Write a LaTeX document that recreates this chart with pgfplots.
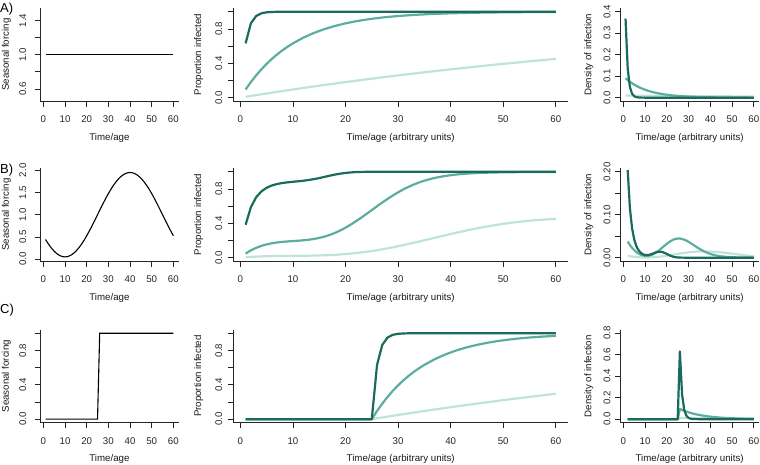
\documentclass[border=0pt]{standalone}
\usepackage{pgfplots}
\pgfplotsset{compat=1.18}
\usepackage{fontspec}
\setmainfont{Liberation Sans}
\definecolor{cdark}{HTML}{1A6B5C}
\definecolor{cmid}{HTML}{5DAD9F}
\definecolor{clight}{HTML}{BEE3D9}
\pgfplotsset{
  rbase/.style={
    scale only axis, height=92.8pt,
    axis x line*=bottom, axis y line*=left,
    axis line style={-, line width=0.8pt, black!85},
    every tick/.style={line width=0.8pt, black!85},
    tick align=outside, major tick length=5.5pt,
    xmin=-1.36, xmax=62.36,
    xtick={0,10,20,30,40,50,60}, xticklabels={0,10,20,30,40,50,60},
    tick label style={font=\fontsize{9.7}{11}\selectfont, text=black!85},
    label style={font=\fontsize{9.7}{11}\selectfont, text=black!90},
    xticklabel style={anchor=base, inner sep=0pt, yshift=-15.9pt},
    xlabel style={at={(axis description cs:0.5,0)}, anchor=base, yshift=-39pt},
  },
  leftcol/.style={rbase, width=138.1pt,
    yticklabel style={xshift=-8.7pt, rotate=90, anchor=base, inner sep=0pt},
    ylabel style={at={([xshift=-31.5pt]axis description cs:0,0.5)}, anchor=base}},
  midcol/.style={rbase, width=335pt,
    ymin=-0.04, ymax=1.04, ytick={0,0.2,0.4,0.6,0.8,1.0}, yticklabels={0.0,,0.4,,0.8,},
    yticklabel style={xshift=-5.6pt, rotate=90, anchor=base, inner sep=0pt},
    ylabel style={at={([xshift=-32pt]axis description cs:0,0.5)}, anchor=base},
    xlabel={Time/age (arbitrary units)}, ylabel={Proportion infected}},
  rightcol/.style={rbase, width=138.5pt,
    yticklabel style={xshift=-4.5pt, rotate=90, anchor=base, inner sep=0pt},
    ylabel style={at={([xshift=-29pt]axis description cs:0,0.5)}, anchor=base},
    xlabel={Time/age (arbitrary units)}, ylabel={Density of infection}},
  fl/.style={black, line width=1.1pt, mark=none},
  ld/.style={cdark, line width=2.2pt, mark=none, line join=round},
  lm/.style={cmid, line width=2.2pt, mark=none, line join=round},
  ll/.style={clight, line width=2.2pt, mark=none, line join=round},
}
\begin{document}
\begin{tikzpicture}
\path[use as bounding box] (0pt,0pt) rectangle (760pt,464pt);
\node[anchor=base west, inner sep=0pt, font=\fontsize{13}{15}\selectfont] at (0pt,451pt) {A)};
\node[anchor=base west, inner sep=0pt, font=\fontsize{13}{15}\selectfont] at (0pt,290.5pt) {B)};
\node[anchor=base west, inner sep=0pt, font=\fontsize{13}{15}\selectfont] at (0pt,151pt) {C)};

% ---------------- Row A ----------------
\begin{axis}[leftcol, at={(40.4pt,455.7pt)}, anchor=north west,
  ymin=0.459, ymax=1.541, ytick={0.6,0.8,1.0,1.2,1.4}, yticklabels={0.6,,1.0,,1.4},
  xlabel={Time/age}, ylabel={Seasonal forcing}]
\addplot[fl] coordinates {(1,1) (60,1)};
\end{axis}

\begin{axis}[midcol, at={(233.2pt,455.7pt)}, anchor=north west]
\addplot[ll] coordinates {(1,0.00995)(5,0.0488)(10,0.0952)(15,0.1393)(20,0.1813)(25,0.2212)(30,0.2592)(35,0.2953)(40,0.3297)(45,0.3624)(50,0.3935)(55,0.4231)(60,0.4512)};
\addplot[lm] coordinates {(1,0.0952)(2,0.1813)(3,0.2592)(4,0.3297)(5,0.3935)(6,0.4512)(7,0.5034)(8,0.5507)(9,0.5934)(10,0.6321)(12,0.6988)(14,0.7534)(16,0.7981)(18,0.8347)(20,0.8647)(22,0.8892)(24,0.9093)(26,0.9257)(28,0.9392)(30,0.9502)(33,0.9631)(36,0.9727)(40,0.9817)(45,0.9889)(50,0.9933)(55,0.9959)(60,0.9975)};
\addplot[ld] coordinates {(1,0.632)(2,0.865)(3,0.950)(4,0.982)(5,0.993)(6,0.9975)(7,0.9991)(8,0.9997)(10,1)(60,1)};
\end{axis}

\begin{axis}[rightcol, at={(620.4pt,455.7pt)}, anchor=north west,
  ymin=-0.016, ymax=0.416, ytick={0,0.1,0.2,0.3,0.4}, yticklabels={0.0,0.1,0.2,0.3,0.4}]
\addplot[ll] coordinates {(1,0.0099)(10,0.0090)(20,0.0082)(30,0.0074)(40,0.0067)(50,0.0061)(60,0.0055)};
\addplot[lm] coordinates {(1,0.0905)(2,0.0819)(3,0.0741)(4,0.0670)(5,0.0607)(6,0.0549)(7,0.0497)(8,0.0449)(10,0.0368)(12,0.0301)(14,0.0247)(16,0.0202)(18,0.0165)(20,0.0135)(23,0.0100)(26,0.0074)(30,0.0050)(35,0.0030)(40,0.0018)(45,0.0011)(50,0.0007)(55,0.0004)(60,0.0002)};
\addplot[ld] coordinates {(1,0.3679)(2,0.1353)(3,0.0498)(4,0.0183)(5,0.0067)(6,0.0025)(7,0.0009)(8,0.0003)(10,0)(60,0)};
\end{axis}

% ---------------- Row B ----------------
\begin{axis}[leftcol, at={(40.4pt,295.7pt)}, anchor=north west,
  ymin=-0.045, ymax=2.045, ytick={0,0.5,1.0,1.5,2.0}, yticklabels={0.0,0.5,1.0,1.5,2.0},
  xlabel={Time/age}, ylabel={Seasonal forcing}]
\addplot[fl, smooth] coordinates {(1,0.4416)(2,0.3644)(3,0.2940)(4,0.2315)(5,0.1773)(6,0.1322)(7,0.0965)(8,0.0708)(9,0.0552)(10,0.05)(11,0.0552)(12,0.0708)(13,0.0965)(14,0.1322)(15,0.1773)(16,0.2315)(17,0.2940)(18,0.3644)(19,0.4416)(20,0.525)(21,0.6136)(22,0.7064)(23,0.8025)(24,0.9007)(25,1.0)(26,1.0993)(27,1.1975)(28,1.2936)(29,1.3864)(30,1.475)(31,1.5584)(32,1.6356)(33,1.7060)(34,1.7685)(35,1.8227)(36,1.8678)(37,1.9035)(38,1.9292)(39,1.9448)(40,1.95)(41,1.9448)(42,1.9292)(43,1.9035)(44,1.8678)(45,1.8227)(46,1.7685)(47,1.7060)(48,1.6356)(49,1.5584)(50,1.475)(51,1.3864)(52,1.2936)(53,1.1975)(54,1.0993)(55,1.0)(56,0.9007)(57,0.8025)(58,0.7064)(59,0.6136)(60,0.525)};
\end{axis}

\begin{axis}[midcol, at={(233.2pt,295.7pt)}, anchor=north west]
\addplot[ll] coordinates {(1,0.0048)(2,0.0088)(3,0.0121)(4,0.0146)(5,0.0167)(6,0.0182)(7,0.0193)(8,0.0201)(9,0.0207)(10,0.0212)(11,0.0217)(12,0.0223)(13,0.0231)(14,0.0243)(15,0.0257)(16,0.0277)(17,0.0303)(18,0.0334)(19,0.0373)(20,0.0420)(21,0.0474)(22,0.0537)(23,0.0608)(24,0.0687)(25,0.0775)(26,0.0872)(27,0.0976)(28,0.1087)(29,0.1206)(30,0.1331)(31,0.1462)(32,0.1597)(33,0.1736)(34,0.1879)(35,0.2024)(36,0.2170)(37,0.2316)(38,0.2462)(39,0.2606)(40,0.2749)(41,0.2889)(42,0.3025)(43,0.3158)(44,0.3286)(45,0.3408)(46,0.3526)(47,0.3637)(48,0.3743)(49,0.3842)(50,0.3935)(51,0.4021)(52,0.4101)(53,0.4174)(54,0.4240)(55,0.4300)(56,0.4354)(57,0.4401)(58,0.4444)(59,0.4480)(60,0.4512)};
\addplot[lm] coordinates {(1,0.0472)(2,0.0847)(3,0.1143)(4,0.1372)(5,0.1546)(6,0.1675)(7,0.1769)(8,0.1837)(9,0.1888)(10,0.1930)(11,0.1972)(12,0.2021)(13,0.2086)(14,0.2176)(15,0.2296)(16,0.2451)(17,0.2646)(18,0.2884)(19,0.3164)(20,0.3487)(21,0.3847)(22,0.4239)(23,0.4658)(24,0.5095)(25,0.5539)(26,0.5984)(27,0.6419)(28,0.6838)(29,0.7235)(30,0.7604)(31,0.7941)(32,0.8245)(33,0.8515)(34,0.8752)(35,0.8957)(36,0.9133)(37,0.9282)(38,0.9407)(39,0.9512)(40,0.9598)(41,0.9669)(42,0.9728)(43,0.9775)(44,0.9814)(45,0.9845)(46,0.9871)(47,0.9891)(48,0.9908)(49,0.9922)(50,0.9933)(52,0.9949)(54,0.9960)(56,0.9967)(58,0.9972)(60,0.9975)};
\addplot[ld] coordinates {(1,0.383)(2,0.587)(3,0.703)(4,0.771)(5,0.814)(6,0.840)(7,0.857)(8,0.869)(9,0.877)(10,0.883)(11,0.889)(12,0.895)(13,0.904)(14,0.914)(15,0.926)(16,0.940)(17,0.954)(18,0.967)(19,0.978)(20,0.986)(21,0.992)(22,0.996)(23,0.998)(24,0.999)(25,1.0)(60,1.0)};
\end{axis}

\begin{axis}[rightcol, at={(620.4pt,295.7pt)}, anchor=north west,
  ymin=-0.008, ymax=0.208, ytick={0,0.05,0.10,0.15,0.20}, yticklabels={0.00,,0.10,,0.20}]
\addplot[ll] coordinates {(2,0.0040)(3,0.0033)(4,0.0025)(5,0.0021)(6,0.0015)(7,0.0011)(8,0.0008)(9,0.0006)(10,0.0005)(11,0.0005)(12,0.0006)(13,0.0008)(14,0.0012)(15,0.0014)(16,0.0020)(17,0.0026)(18,0.0031)(19,0.0039)(20,0.0047)(21,0.0054)(22,0.0063)(23,0.0071)(24,0.0079)(25,0.0088)(26,0.0097)(27,0.0104)(28,0.0111)(29,0.0119)(30,0.0125)(31,0.0131)(32,0.0135)(33,0.0139)(34,0.0143)(35,0.0145)(36,0.0146)(37,0.0146)(38,0.0146)(39,0.0144)(40,0.0143)(41,0.0140)(42,0.0136)(43,0.0133)(44,0.0128)(45,0.0122)(46,0.0118)(47,0.0111)(48,0.0106)(49,0.0099)(50,0.0093)(51,0.0086)(52,0.0080)(53,0.0073)(54,0.0066)(55,0.0060)(56,0.0054)(57,0.0047)(58,0.0043)(59,0.0036)(60,0.0032)};
\addplot[lm] coordinates {(2,0.0375)(3,0.0296)(4,0.0229)(5,0.0174)(6,0.0129)(7,0.0094)(8,0.0068)(9,0.0051)(10,0.0042)(11,0.0042)(12,0.0049)(13,0.0065)(14,0.0090)(15,0.0120)(16,0.0155)(17,0.0195)(18,0.0238)(19,0.0280)(20,0.0323)(21,0.0360)(22,0.0392)(23,0.0419)(24,0.0437)(25,0.0444)(26,0.0445)(27,0.0435)(28,0.0419)(29,0.0397)(30,0.0369)(31,0.0337)(32,0.0304)(33,0.0270)(34,0.0237)(35,0.0205)(36,0.0176)(37,0.0149)(38,0.0125)(39,0.0105)(40,0.0086)(41,0.0071)(42,0.0059)(43,0.0047)(44,0.0039)(45,0.0031)(46,0.0026)(47,0.0020)(48,0.0017)(49,0.0014)(50,0.0011)(51,0.0009)(52,0.0007)(53,0.0006)(54,0.0005)(55,0.0004)(56,0.0003)(57,0.0003)(58,0.0002)(59,0.0002)(60,0.0001)};
\addplot[ld] coordinates {(2,0.204)(3,0.1157)(4,0.0684)(5,0.0422)(6,0.0265)(7,0.0172)(8,0.0114)(9,0.0079)(10,0.0062)(11,0.0059)(12,0.0067)(13,0.0083)(14,0.0103)(15,0.0123)(16,0.0136)(17,0.0139)(18,0.0129)(19,0.0110)(20,0.0086)(21,0.0059)(22,0.0038)(23,0.0021)(24,0.0011)(25,0.0005)(26,0.0002)(27,0.0001)(28,0)(60,0)};
\end{axis}

% ---------------- Row C ----------------
\begin{axis}[leftcol, at={(40.4pt,134.2pt)}, anchor=north west,
  ymin=-0.04, ymax=1.04, ytick={0,0.2,0.4,0.6,0.8,1.0}, yticklabels={0.0,,0.4,,0.8,},
  xlabel={Time/age}, ylabel={Seasonal forcing}]
\addplot[fl] coordinates {(1,0)(25,0)(26,1)(60,1)};
\end{axis}

\begin{axis}[midcol, at={(233.2pt,134.2pt)}, anchor=north west]
\addplot[ll] coordinates {(1,0)(25,0)(26,0.00995)(30,0.0488)(35,0.0952)(40,0.1393)(45,0.1813)(50,0.2212)(55,0.2592)(60,0.2953)};
\addplot[lm] coordinates {(1,0)(25,0)(26,0.0952)(27,0.1813)(28,0.2592)(29,0.3297)(30,0.3935)(31,0.4512)(32,0.5034)(33,0.5507)(34,0.5934)(35,0.6321)(37,0.6988)(39,0.7534)(41,0.7981)(43,0.8347)(45,0.8647)(47,0.8892)(49,0.9093)(51,0.9257)(53,0.9392)(55,0.9502)(57,0.9592)(60,0.9698)};
\addplot[ld] coordinates {(1,0)(25,0)(26,0.632)(27,0.865)(28,0.950)(29,0.982)(30,0.993)(31,0.9975)(32,0.9991)(33,0.9997)(35,1)(60,1)};
\end{axis}

\begin{axis}[rightcol, at={(620.4pt,134.2pt)}, anchor=north west,
  ymin=-0.032, ymax=0.832, ytick={0,0.2,0.4,0.6,0.8}, yticklabels={0.0,0.2,0.4,0.6,0.8}]
\addplot[ll] coordinates {(2,0)(25,0)(26,0.00995)(35,0.0091)(45,0.0082)(60,0.0070)};
\addplot[lm] coordinates {(2,0)(25,0)(26,0.0952)(27,0.0861)(28,0.0779)(29,0.0705)(30,0.0638)(31,0.0577)(32,0.0522)(33,0.0473)(34,0.0428)(35,0.0387)(37,0.0317)(39,0.0259)(41,0.0212)(43,0.0174)(45,0.0142)(47,0.0117)(49,0.0095)(51,0.0078)(53,0.0064)(55,0.0052)(57,0.0043)(60,0.0032)};
\addplot[ld] coordinates {(2,0)(25,0)(26,0.632)(27,0.233)(28,0.0855)(29,0.0315)(30,0.0116)(31,0.0043)(32,0.0016)(33,0.0006)(35,0)(60,0)};
\end{axis}
\end{tikzpicture}
\end{document}
